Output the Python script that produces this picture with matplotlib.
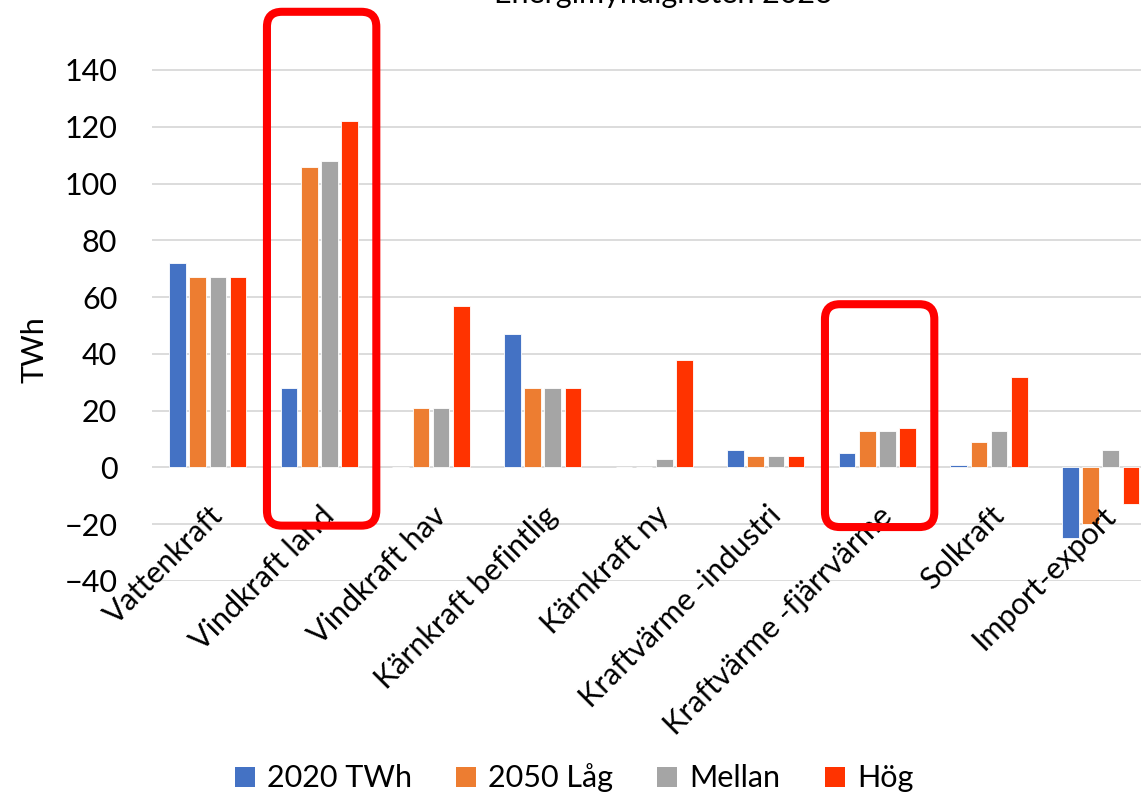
import matplotlib
matplotlib.use("Agg")
import matplotlib.pyplot as plt
from matplotlib.patches import FancyBboxPatch, Patch
from matplotlib.transforms import offset_copy, IdentityTransform

# Electricity production per source, TWh
categories = ["Vattenkraft", "Vindkraft land", "Vindkraft hav", "Kärnkraft befintlig",
              "Kärnkraft ny", "Kraftvärme -industri", "Kraftvärme -fjärrvärme",
              "Solkraft", "Import-export"]
series_names = ["2020 TWh", "2050 Låg", "Mellan", "Hög"]
v2020 = [72, 28, 0, 47, 0, 6, 5, 1, -25]
v2050_lag = [67, 106, 21, 28, 0, 4, 13, 9, -20]
v_mellan = [67, 108, 21, 28, 3, 4, 13, 13, 6]
v_hog = [67, 122, 57, 28, 38, 4, 14, 32, -13]
colors = ["#4472C4", "#ED7D31", "#A5A5A5", "#FF3300"]
yticks = [-40, -20, 0, 20, 40, 60, 80, 100, 120, 140]

# highlighted categories: (index, low value, high value)
highlights = [(1, -20.5, 160.5), (6, -21, 57.5)]

plt.rcParams["font.family"] = ["Lato", "DejaVu Sans"]
FS = 22

fig = plt.figure(figsize=(11.41, 7.95), dpi=100)
ax = fig.add_axes([152 / 1141, 214 / 795, 1004.4 / 1141, 539.4 / 795])

pitch = 0.181
for k, vals in enumerate([v2020, v2050_lag, v_mellan, v_hog]):
    xs = [i + (k - 1.5) * pitch for i in range(len(categories))]
    ax.bar(xs, vals, width=pitch * 0.82, color=colors[k], edgecolor="white",
           linewidth=0.6, zorder=3, label=series_names[k])

ax.set_xlim(-0.5, len(categories) - 0.5)
ax.set_ylim(-40, 150)
ax.set_yticks(yticks)
ax.set_xticks([])
ax.tick_params(axis="y", length=0, pad=25, labelsize=FS, colors="black")
ax.grid(axis="y", color="#D9D9D9", linewidth=1.3, zorder=0)
for s in ax.spines.values():
    s.set_visible(False)

# category labels sit just under the zero line
lab_tr = offset_copy(ax.transData, fig=fig, x=12, y=-36, units="points")
for i, name in enumerate(categories):
    ax.text(i, 0, name, transform=lab_tr, rotation=45, rotation_mode="anchor",
            ha="right", va="baseline", fontsize=FS, color="black", zorder=5,
            clip_on=False)

fig.text(35 / 1141, 1 - 350 / 795, "TWh", rotation=90, ha="center", va="center",
         fontsize=FS)
fig.text(663 / 1141, 1 - 3 / 795, "Energimyndigheten 2023", ha="center",
         va="baseline", fontsize=FS)

handles = [Patch(facecolor=c, edgecolor="none") for c in colors]
fig.legend(handles, series_names, loc="center", bbox_to_anchor=(574 / 1141, 1 - 778 / 795),
           ncol=4, frameon=False, fontsize=FS, handlelength=0.65, handleheight=0.65,
           handletextpad=0.4, columnspacing=1.45, borderaxespad=0)

# rounded red frames around the highlighted groups
fig.canvas.draw()
for idx, lo, hi in highlights:
    x0, y0 = ax.transData.transform((idx - 0.47, lo))
    x1, y1 = ax.transData.transform((idx + 0.51, hi))
    box = FancyBboxPatch((x0, y0), x1 - x0, y1 - y0,
                         boxstyle="round,pad=0,rounding_size=15",
                         transform=IdentityTransform(), fill=False,
                         edgecolor="#FF0000", linewidth=5.8, zorder=10)
    fig.patches.append(box)

fig.savefig("out.png", dpi=100)
